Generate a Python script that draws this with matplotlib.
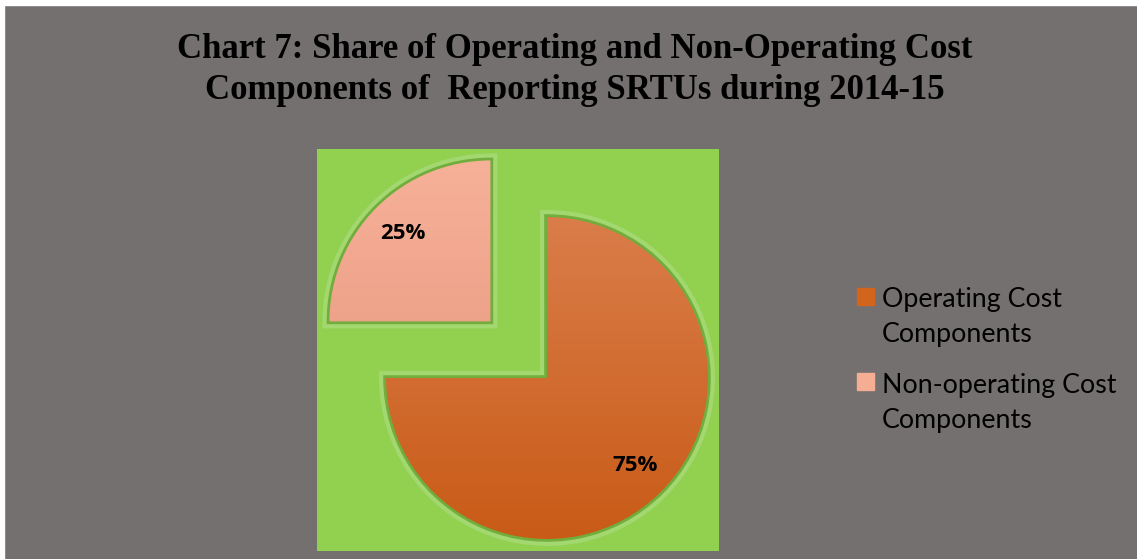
import numpy as np
import matplotlib
matplotlib.use("Agg")
import matplotlib.pyplot as plt
import matplotlib.patheffects as pe
from matplotlib.patches import Rectangle
from matplotlib.legend_handler import HandlerPatch

# data
categories = ["Operating Cost\nComponents", "Non-operating Cost\nComponents"]
shares = [75, 25]

# colours (top / bottom of the gradient)
grad_top = ["#da7d4a", "#f7b199"]
grad_bot = ["#c95b17", "#e4947a"]
legend_colors = ["#d2651e", "#f5ad93"]
bg_gray = "#747070"
plot_green = "#92d050"

W, H = 1137, 559
fig = plt.figure(figsize=(W / 100, H / 100), dpi=100, facecolor=bg_gray)

# thin white strip along top and left edge
fig.patches.append(Rectangle((0, 1 - 5 / H), 1, 5 / H, transform=fig.transFigure, color="white", zorder=-1))
fig.patches.append(Rectangle((0, 0), 4 / W, 1, transform=fig.transFigure, color="white", zorder=-1))

fig.text(575 / W, 1 - 70 / H,
         "Chart 7: Share of Operating and Non-Operating Cost\nComponents of  Reporting SRTUs during 2014-15",
         ha="center", va="center", fontsize=25, fontweight="bold",
         family="Liberation Serif", linespacing=1.33, color="black")

# green plot square
ax = fig.add_axes([317 / W, 8 / H, 402 / W, 402 / H])
ax.set_facecolor(plot_green)

radius = 161
wedges, texts, autotexts = ax.pie(
    shares, colors=legend_colors, startangle=90, counterclock=False,
    center=(230, 173), radius=radius, explode=[0, 80],
    autopct="%1.0f%%", pctdistance=0.77,
    wedgeprops=dict(edgecolor="#6fae3a", linewidth=1.2),
    textprops=dict(fontsize=16, fontweight="bold", family="Open Sans", color="black"),
    frame=True,
)
ax.add_patch(Rectangle((0, 0), 402, 402, color=plot_green, zorder=0))

# soft light-green rim + vertical gradient inside each wedge
for w, top, bot in zip(wedges, grad_top, grad_bot):
    w.set_path_effects([pe.Stroke(linewidth=10, foreground="#a3d870"),
                        pe.Stroke(linewidth=4, foreground="#72ad3e"),
                        pe.Normal()])
    cx, cy = w.center
    r = w.r
    c1 = np.array(matplotlib.colors.to_rgb(top))
    c2 = np.array(matplotlib.colors.to_rgb(bot))
    t = np.linspace(0, 1, 256)[:, None]
    img = (c1 * (1 - t) + c2 * t)[:, None, :]
    im = ax.imshow(img, extent=(cx - r, cx + r, cy - r, cy + r), origin="upper",
                   aspect="auto", zorder=w.get_zorder() + 0.1)
    im.set_clip_path(w)

for t in autotexts:
    t.set_zorder(5)

ax.set_xlim(0, 402)
ax.set_ylim(0, 402)
ax.set_aspect("equal")
ax.axis("off")

LEG_FS = 19.3
SQ_Y = 22.6 * 0.72


def top_square(legend, orig_handle, xdescent, ydescent, width, height, fontsize):
    s = 17 * 0.72
    return Rectangle((-xdescent, SQ_Y), s, s)


leg = fig.legend(
    [Rectangle((0, 0), 1, 1, color=c) for c in legend_colors], categories,
    loc="center left", bbox_to_anchor=(857 / W, 1 - 360 / H),
    frameon=False, handlelength=0.63, handleheight=0.7,
    handletextpad=0.3, labelspacing=0.94, borderpad=0, borderaxespad=0,
    handler_map={Rectangle: HandlerPatch(patch_func=top_square)},
    prop=dict(family="Lato", size=LEG_FS),
)
for txt in leg.get_texts():
    txt.set_linespacing(1.53)

fig.savefig("out.png", dpi=100, facecolor=bg_gray)
